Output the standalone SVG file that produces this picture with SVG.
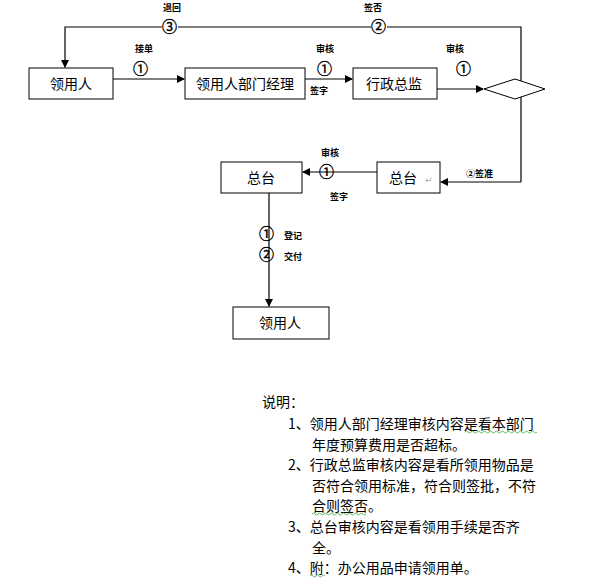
<svg xmlns="http://www.w3.org/2000/svg" width="590" height="587" viewBox="0 0 590 587">
<defs>
<marker id="ah" markerWidth="8" markerHeight="8" refX="7" refY="4" orient="auto" markerUnits="userSpaceOnUse">
<path d="M0,0 L8,4 L0,8 Z" fill="#000"/>
</marker>
<style>
.box{fill:#fff;stroke:#000;stroke-width:1}
.ln{fill:none;stroke:#000;stroke-width:1.2}
.bt{font-family:"Noto Sans CJK SC","Liberation Sans",sans-serif;font-size:14px;fill:#000}
.sm{font-family:"Noto Sans CJK SC","Liberation Sans",sans-serif;font-size:9px;fill:#000;font-weight:bold}
.cn{font-family:"Noto Sans CJK SC","Liberation Sans",sans-serif;font-size:15px;fill:#000;stroke:#000;stroke-width:0.4}
.nt{font-family:"Noto Sans CJK SC","Liberation Sans",sans-serif;font-size:14px;fill:#000}
.wv{fill:none;stroke:#3a3;stroke-width:0.8}
</style>
</defs>
<rect width="590" height="587" fill="#fff"/>
<g id="connectors">
<path class="ln" d="M521,182 V27 H65 V67" marker-end="url(#ah)"/>
<path class="ln" d="M113,79 H184" marker-end="url(#ah)"/>
<path class="ln" d="M305,79 H352" marker-end="url(#ah)"/>
<path class="ln" d="M437,89 H483" marker-end="url(#ah)"/>
<path class="ln" d="M521,182 H441" marker-end="url(#ah)"/>
<path class="ln" d="M377,172 H303" marker-end="url(#ah)"/>
<path class="ln" d="M269,193 V306" marker-end="url(#ah)"/>
<text class="sm" x="163" y="11">退回</text>
<rect x="162" y="20" width="16" height="14" fill="#fff"/>
<text class="cn" x="162" y="32">③</text>
<text class="sm" x="364" y="11">签否</text>
<rect x="371" y="20" width="16" height="14" fill="#fff"/>
<text class="cn" x="371" y="32">②</text>
<text class="sm" x="135" y="52">接单</text>
<text class="cn" x="133" y="74">①</text>
<text class="sm" x="316" y="52">审核</text>
<text class="cn" x="317" y="74">①</text>
<text class="sm" x="310" y="94">签字</text>
<text class="sm" x="446" y="52">审核</text>
<text class="cn" x="456" y="74">①</text>
<text class="sm" x="321" y="156">审核</text>
<text class="cn" x="319" y="177" font-size="11">①</text>
<text class="sm" x="330" y="200">签字</text>
<text class="sm" x="466" y="177">②签准</text>
<text class="cn" x="259" y="239" font-size="11">①</text>
<text class="sm" x="284" y="239">登记</text>
<text class="cn" x="259" y="260" font-size="11">②</text>
<text class="sm" x="284" y="260">交付</text>
</g>
<g id="n1"><rect class="box" x="29" y="68" width="84" height="31"/><text class="bt" x="71" y="89" text-anchor="middle">领用人</text></g>
<g id="n2"><rect class="box" x="185" y="68" width="120" height="31"/><text class="bt" x="245" y="89" text-anchor="middle">领用人部门经理</text></g>
<g id="n3"><rect class="box" x="353" y="68" width="84" height="31"/><text class="bt" x="394" y="89" text-anchor="middle">行政总监</text></g>
<g id="n4"><polygon class="box" points="484,89 515,79 545,89 515,99"/></g>
<g id="n5"><rect class="box" x="377" y="162" width="63" height="31"/><text class="bt" x="403" y="183" text-anchor="middle">总台</text><text x="425" y="183" font-family="DejaVu Sans" font-size="9" fill="#aaa">↵</text></g>
<g id="n6"><rect class="box" x="221" y="162" width="81" height="31"/><text class="bt" x="261" y="183" text-anchor="middle">总台</text></g>
<g id="n7"><rect class="box" x="233" y="307" width="96" height="32"/><text class="bt" x="280" y="328" text-anchor="middle">领用人</text></g>
<g id="notes">
<text class="nt" x="262" y="407">说明：</text>
<text class="nt" x="288" y="429">1、领用人部门经理审核内容是看本部门</text>
<text class="nt" x="312" y="450">年度预算费用是否超标。</text>
<text class="nt" x="288" y="470">2、行政总监审核内容是看所领用物品是</text>
<text class="nt" x="312" y="491">否符合领用标准，符合则签批，不符</text>
<text class="nt" x="312" y="511">合则签否。</text>
<text class="nt" x="288" y="532">3、总台审核内容是看领用手续是否齐</text>
<text class="nt" x="312" y="553">全。</text>
<text class="nt" x="288" y="573">4、附：办公用品申请领用单。</text>
<path class="wv" d="M465,432 q1.5,-2 3,0 t3,0 t3,0 t3,0 t3,0 t3,0 t3,0 t3,0 t3,0 t3,0 t3,0 t3,0 t3,0 t3,0 t3,0 t3,0 t3,0 t3,0 t3,0 t3,0 t3,0 t3,0 t3,0 t3,0"/>
<path class="wv" d="M312,514 q1.5,-2 3,0 t3,0 t3,0 t3,0 t3,0 t3,0 t3,0 t3,0 t3,0 t3,0 t3,0 t3,0 t3,0 t3,0 t3,0 t3,0 t3,0 t3,0"/>
<path class="wv" d="M310,576 q1.5,-2 3,0 t3,0 t3,0 t3,0 t3,0" stroke="#d22"/>
</g>
</svg>
